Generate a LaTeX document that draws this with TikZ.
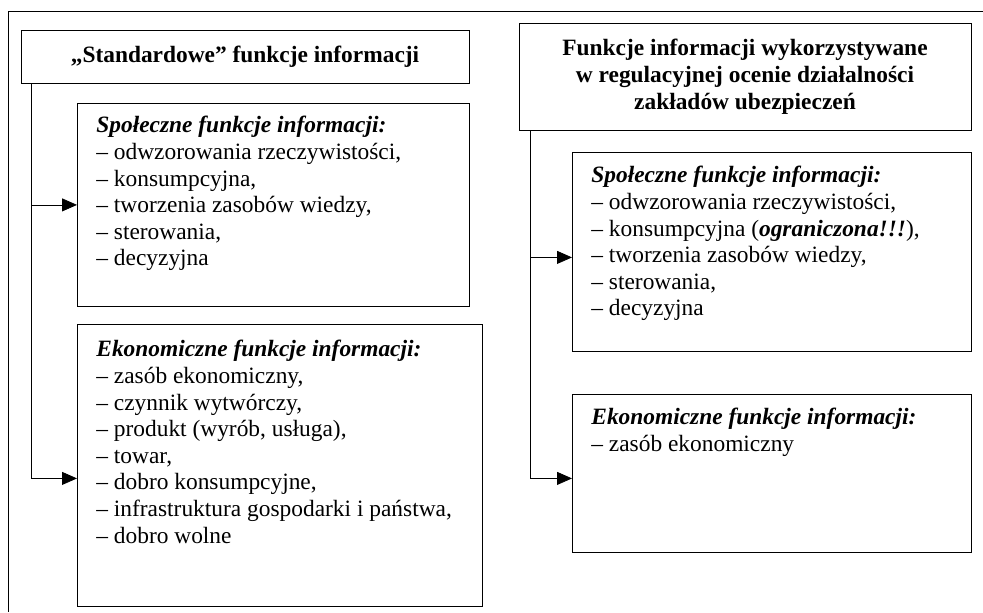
\documentclass[tikz,border=0pt]{standalone}
\usepackage{fontspec}
\setmainfont{Liberation Serif}
\usetikzlibrary{arrows.meta}
\tikzset{>={Triangle[length=7.5pt,width=6.5pt]},
line width=1.1pt,
head/.style={draw,font=\fontsize{11.7}{13.6}\selectfont\bfseries,align=center,inner sep=0pt},
fun/.style={draw,anchor=north west,inner xsep=9.5pt,inner ysep=6.5pt,font=\fontsize{11.7}{13.3}\selectfont},
}
\newcommand{\funtext}[3]{\parbox[t][#2][t]{#1}{#3}}

\begin{document}
\begin{tikzpicture}[x=0.5pt,y=-0.5pt]
\useasboundingbox (0,0) rectangle (983,612);
\draw (983,11) -| (8,612);

% left column
\node[head,minimum width=224pt,minimum height=26.5pt] (std) at (245,56.5) {„Standardowe” funkcje informacji};
\node[fun] (spolL) at (77,103) {\funtext{177pt}{88.5pt}{%
\textbf{\textit{Społeczne funkcje informacji:}}\\
– odwzorowania rzeczywistości,\\
– konsumpcyjna,\\
– tworzenia zasobów wiedzy,\\
– sterowania,\\
– decyzyjna}};
\node[fun,inner ysep=8pt] (ekoL) at (77,324) {\funtext{183.5pt}{125pt}{%
\textbf{\textit{Ekonomiczne funkcje informacji:}}\\
– zasób ekonomiczny,\\
– czynnik wytwórczy,\\
– produkt (wyrób, usługa),\\
– towar,\\
– dobro konsumpcyjne,\\
– infrastruktura gospodarki i państwa,\\
– dobro wolne}};

% right column
\node[head,minimum width=226pt,minimum height=53.5pt] (reg) at (745,76.5) {Funkcje informacji wykorzystywane\\w regulacyjnej ocenie działalności\\zakładów ubezpieczeń};
\node[fun,inner ysep=7pt] (spolR) at (572,152) {\funtext{180.5pt}{85.5pt}{%
\textbf{\textit{Społeczne funkcje informacji:}}\\
– odwzorowania rzeczywistości,\\
– konsumpcyjna (\textbf{\textit{ograniczona!!!}}),\\
– tworzenia zasobów wiedzy,\\
– sterowania,\\
– decyzyjna}};
\node[fun,inner ysep=7pt] (ekoR) at (572,394) {\funtext{180.5pt}{65pt}{%
\textbf{\textit{Ekonomiczne funkcje informacji:}}\\
– zasób ekonomiczny}};

\coordinate (tL) at ([xshift=5.5pt]std.south west);
\coordinate (tR) at ([xshift=6pt]reg.south west);
\draw[->] (tL) |- ([yshift=-6.5pt]ekoL.west);
\draw[->] (tL |- spolL.west) -- (spolL.west);
\draw[->] (tR) |- ([yshift=-2.5pt]ekoR.west);
\draw[->] ([yshift=-2.75pt]spolR.west -| tR) -- ([yshift=-2.75pt]spolR.west);
\end{tikzpicture}
\end{document}
